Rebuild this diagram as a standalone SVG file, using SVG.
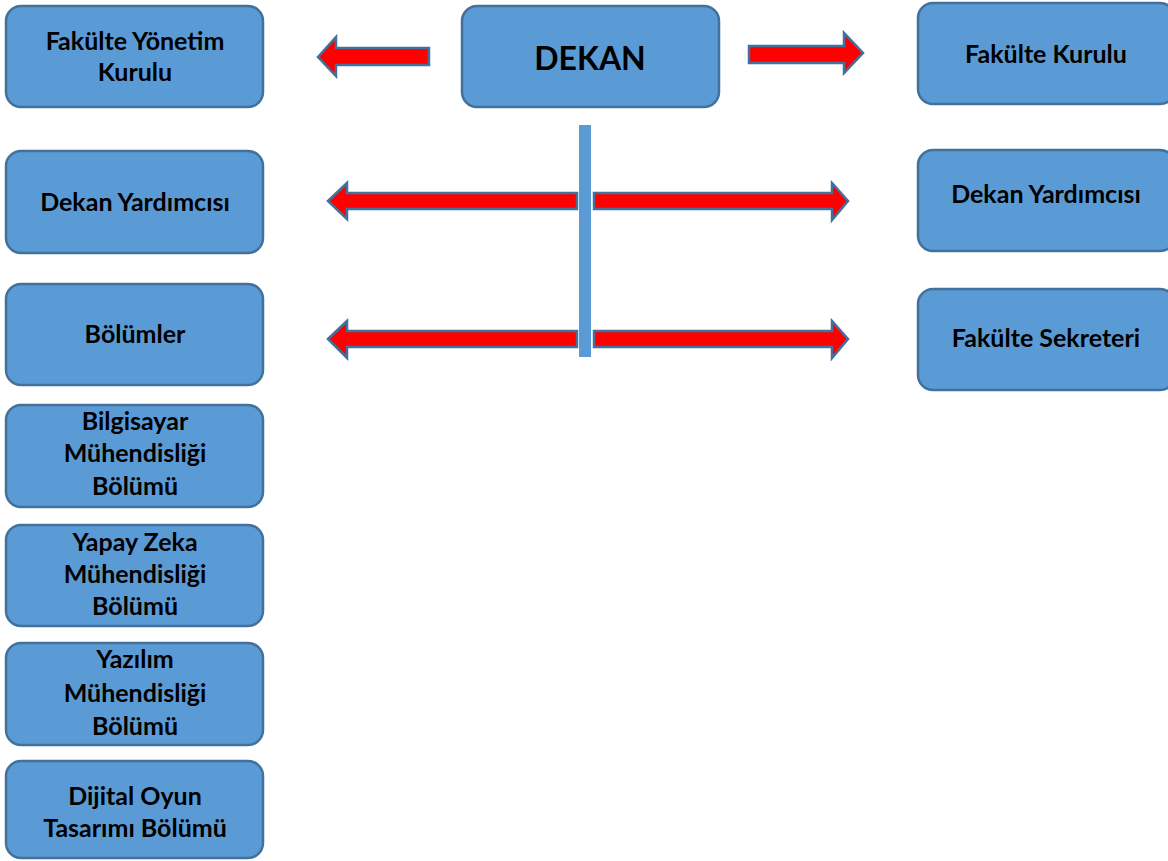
<svg xmlns="http://www.w3.org/2000/svg" width="1168" height="861" viewBox="0 0 1168 861">
<style>
.box{fill:#5b9bd5;stroke:#41719c;stroke-width:2.5}
.t{font-family:Lato,"Open Sans","Liberation Sans",sans-serif;font-weight:bold;font-size:25px;fill:#000;text-anchor:middle}
.big{font-size:32px}
.arr{fill:#ff0000;stroke:#41719c;stroke-width:2.5;stroke-linejoin:miter}
.bar{fill:#5b9bd5}
</style>
<rect width="1168" height="861" fill="#ffffff"/>
<g id="connectors">
<path class="arr" d="M318,57 L336,37 L336,48 L429,48 L429,65 L336,65 L336,76 Z"/>
<path class="arr" d="M749,46 L844,46 L844,33 L863,53 L844,73 L844,63 L749,63 Z"/>
<rect class="bar" x="579" y="125" width="12" height="232"/>
<path class="arr" d="M328,201 L347,183 L347,193 L577,193 L577,209 L347,209 L347,219 Z"/>
<path class="arr" d="M594,193 L832,193 L832,183 L848,201 L832,220 L832,209 L594,209 Z"/>
<path class="arr" d="M328,339 L347,321 L347,331 L577,331 L577,347 L347,347 L347,358 Z"/>
<path class="arr" d="M594,331 L832,331 L832,321 L848,339 L832,358 L832,347 L594,347 Z"/>
</g>
<g id="fakulte-yonetim-kurulu">
<rect class="box" x="6" y="6" width="257" height="101" rx="15"/>
<text class="t" x="135" y="50">Fakülte Yönetim</text>
<text class="t" x="135" y="81">Kurulu</text>
</g>
<g id="dekan">
<rect class="box" x="462" y="6" width="257" height="101" rx="15"/>
<text class="t big" x="590" y="70">DEKAN</text>
</g>
<g id="fakulte-kurulu">
<rect class="box" x="918" y="3" width="257" height="101" rx="15"/>
<text class="t" x="1046" y="63">Fakülte Kurulu</text>
</g>
<g id="dekan-yardimcisi-sol">
<rect class="box" x="6" y="151" width="257" height="102" rx="15"/>
<text class="t" x="135" y="211">Dekan Yardımcısı</text>
</g>
<g id="dekan-yardimcisi-sag">
<rect class="box" x="918" y="150" width="257" height="101" rx="15"/>
<text class="t" x="1046" y="203">Dekan Yardımcısı</text>
</g>
<g id="bolumler">
<rect class="box" x="6" y="284" width="257" height="101" rx="15"/>
<text class="t" x="135" y="343">Bölümler</text>
</g>
<g id="fakulte-sekreteri">
<rect class="box" x="918" y="289" width="257" height="101" rx="15"/>
<text class="t" x="1046" y="347">Fakülte Sekreteri</text>
</g>
<g id="bilgisayar">
<rect class="box" x="6" y="405" width="257" height="102" rx="15"/>
<text class="t" x="135" y="430">Bilgisayar</text>
<text class="t" x="135" y="462">Mühendisliği</text>
<text class="t" x="135" y="495">Bölümü</text>
</g>
<g id="yapay-zeka">
<rect class="box" x="6" y="525" width="257" height="101" rx="15"/>
<text class="t" x="135" y="551">Yapay Zeka</text>
<text class="t" x="135" y="583">Mühendisliği</text>
<text class="t" x="135" y="615">Bölümü</text>
</g>
<g id="yazilim">
<rect class="box" x="6" y="643" width="257" height="102" rx="15"/>
<text class="t" x="135" y="668">Yazılım</text>
<text class="t" x="135" y="702">Mühendisliği</text>
<text class="t" x="135" y="735">Bölümü</text>
</g>
<g id="dijital-oyun">
<rect class="box" x="6" y="761" width="257" height="97" rx="15"/>
<text class="t" x="135" y="805">Dijital Oyun</text>
<text class="t" x="135" y="837">Tasarımı Bölümü</text>
</g>
</svg>
